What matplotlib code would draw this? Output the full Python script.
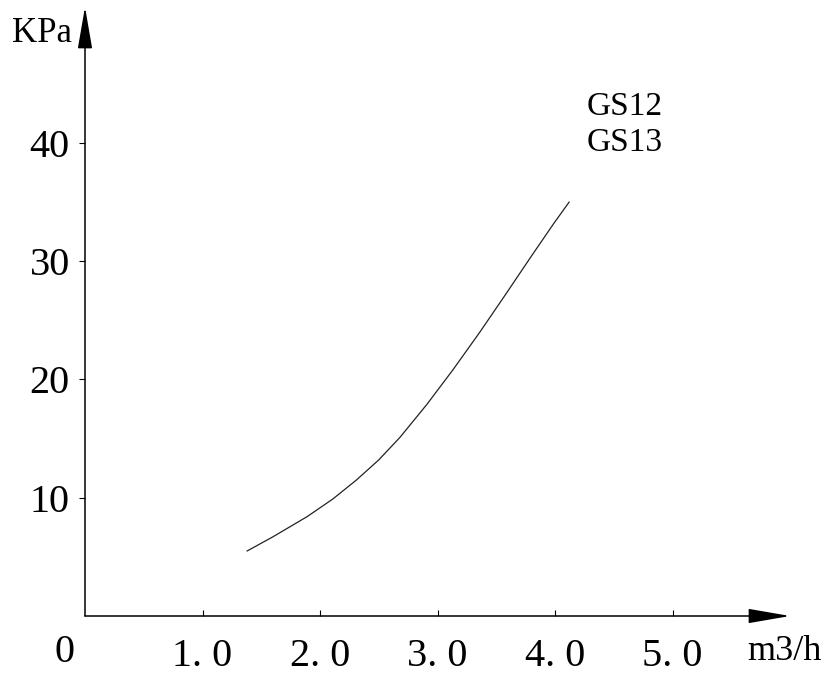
import matplotlib
matplotlib.use("Agg")
import matplotlib.pyplot as plt

# flow (m3/h) vs pressure drop (KPa)
flow = [1.38, 1.60, 1.89, 2.11, 2.31, 2.50, 2.68, 2.91, 3.13, 3.36, 3.58, 3.79, 3.99, 4.12]
pressure = [5.5, 6.7, 8.4, 9.9, 11.5, 13.2, 15.1, 17.9, 20.8, 24.0, 27.2, 30.3, 33.2, 35.0]

x_ticks = [1.0, 2.0, 3.0, 4.0, 5.0]
x_tick_labels = ["1. 0", "2. 0", "3. 0", "4. 0", "5. 0"]
y_ticks = [10, 20, 30, 40]
y_tick_labels = ["10", "20", "30", "40"]
series_names = ["GS12", "GS13"]

plt.rcParams["font.family"] = ["Liberation Serif", "DejaVu Serif"]

W, H = 834, 679
fig = plt.figure(figsize=(W / 100, H / 100), dpi=100)
# axes box: origin at pixel (85, 616), arrow tips at x=790 and y=7
ax = fig.add_axes([85 / W, (H - 616) / H, (790 - 85) / W, (616 - 7) / H])
ax.set_xlim(0, 6.0)
ax.set_ylim(0, 51.5)

for s in ax.spines.values():
    s.set_visible(False)

# axis arrows
arrow = dict(arrowstyle="-|>,head_length=26,head_width=4.5", mutation_scale=1,
             shrinkA=0, shrinkB=0, lw=1.1, color="black")
ax.annotate("", xy=(1, 0), xytext=(0, 0), xycoords="axes fraction",
            textcoords="axes fraction", arrowprops=arrow, annotation_clip=False)
ax.annotate("", xy=(0, 1), xytext=(0, 0), xycoords="axes fraction",
            textcoords="axes fraction", arrowprops=arrow, annotation_clip=False)

ax.plot(flow, pressure, color="#222222", lw=0.9)

ax.set_xticks(x_ticks)
ax.set_xticklabels(x_tick_labels)
ax.set_yticks(y_ticks)
ax.set_yticklabels(y_tick_labels)
ax.tick_params(axis="x", direction="in", length=4, width=0.8, pad=16, labelsize=29)
ax.tick_params(axis="y", direction="out", length=4, width=0.8, pad=7, labelsize=29)

# origin label and axis names
ax.annotate("0", xy=(0, 0), xycoords="data", xytext=(-20, -37),
            textcoords="offset pixels", ha="center", va="center", fontsize=29,
            annotation_clip=False)
ax.annotate("m3/h", xy=(1, 0), xycoords="axes fraction", xytext=(-43, -35),
            textcoords="offset pixels", ha="left", va="center", fontsize=26,
            annotation_clip=False)
ax.annotate("KPa", xy=(0, 1), xycoords="axes fraction", xytext=(-13, -26),
            textcoords="offset pixels", ha="right", va="center", fontsize=25,
            annotation_clip=False)

ax.text(587 / W, 1 - 107 / H, series_names[0], transform=fig.transFigure,
        ha="left", va="center", fontsize=24)
ax.text(587 / W, 1 - 143 / H, series_names[1], transform=fig.transFigure,
        ha="left", va="center", fontsize=24)

fig.savefig("out.png", dpi=100)
